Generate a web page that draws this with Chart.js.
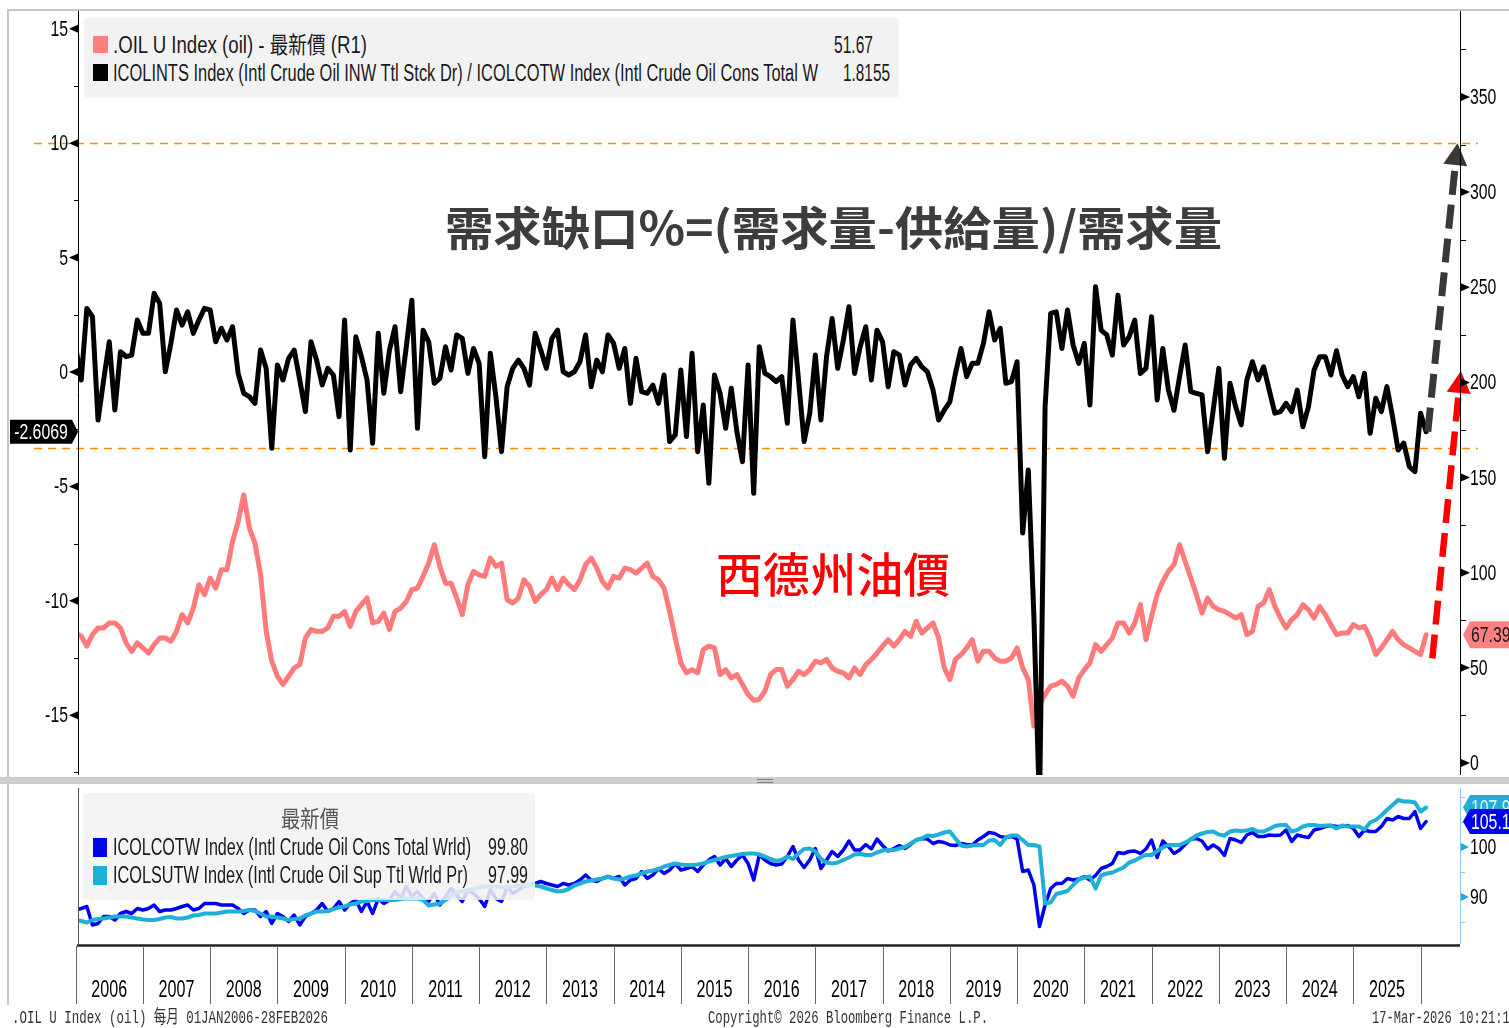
<!DOCTYPE html>
<html>
<head>
<meta charset="utf-8">
<script src="https://cdn.jsdelivr.net/npm/chart.js@4.4.1/dist/chart.umd.min.js"></script>
<style>
  html, body { margin: 0; padding: 0; background: #fff; }
  #page { position: relative; width: 1509px; height: 1028px; overflow: hidden; background: #fff; }
  #page canvas { position: absolute; left: 0; }
  .txt { position: absolute; white-space: nowrap; transform-origin: 0 50%; }
  .box { position: absolute; }
</style>
</head>
<body>
<div id="page">
  <canvas id="topChart" width="1509" height="778" style="top:0"></canvas>
  <canvas id="bottomChart" width="1509" height="245" style="top:783px"></canvas>
</div>
<script>
// monthly, Jan 2006 .. Feb 2026
const years = ['2006','2007','2008','2009','2010','2011','2012','2013','2014','2015',
  '2016','2017','2018','2019','2020','2021','2022','2023','2024','2025'];

// (demand - supply) / demand, %  (left axis)
const gapPct = [
  1.10, -0.35, 2.78, 2.42, -2.10, -0.35, 1.32, -1.66, 0.89, 0.67,
  0.74, 2.27, 1.69, 1.69, 3.44, 3.00, 0.01, 1.25, 2.71, 2.05,
  2.63, 1.69, 2.27, 2.78, 2.71, 1.32, 1.91, 1.40, 1.98, -0.06,
  -0.93, -1.08, -1.37, 0.96, 0.16, -3.33, 0.31, -0.35, 0.60, 0.96,
  -0.35, -1.73, 1.32, 0.52, -0.57, 0.16, -0.13, -1.95, 2.27, -3.41,
  1.54, 0.67, -0.35, -3.11, 1.69, -0.93, 0.96, 1.98, -0.86, 1.10,
  3.14, -2.46, 1.83, 1.32, -0.49, -0.28, 1.10, 0.09, 1.62, 1.47,
  -0.06, 1.03, 0.38, -3.70, 0.82, -1.08, -3.48, -0.64, 0.16, 0.52,
  0.16, -0.57, 1.69, 0.96, 0.16, 1.47, 1.83, 0.01, -0.13, 0.01,
  0.45, 1.62, -0.64, 0.52, 0.01, 1.62, 1.25, 0.16, 1.03, -1.37,
  0.60, -0.86, -0.93, -0.57, -1.37, -0.13, -3.04, -2.75, 0.09, -2.82,
  0.82, -3.48, -1.44, -4.86, -0.13, -0.93, -2.46, -0.71, -2.61, -3.92,
  0.31, -5.30, 1.10, -0.06, -0.20, -0.42, -0.20, -2.24, 2.27, -0.35,
  -3.04, -1.80, 0.74, -2.10, 0.67, 2.34, 0.16, 1.40, 2.85, -0.06,
  1.10, 1.98, -0.35, 1.83, 1.32, -0.64, 0.89, 0.74, -0.57, 0.31,
  0.60, 0.23, 0.01, -0.78, -2.10, -1.67, -1.30, -0.06, 1.03, -0.20,
  0.38, 0.38, 1.25, 2.63, 1.40, 1.91, -0.49, -0.42, 0.45, -7.04,
  -4.28, -10.68, -19.0, -1.51, 2.56, 2.63, 1.03, 2.71, 1.18, 0.38,
  1.25, -1.44, 3.73, 1.83, 1.62, 0.74, 3.36, 1.18, 1.54, 2.27,
  -0.06, 0.16, 2.42, -1.22, 1.03, -0.78, -1.67, -0.20, 1.18, -0.86,
  -0.93, -1.00, -3.48, -1.66, 0.16, -3.77, -0.49, -1.51, -2.31, -0.35,
  0.45, -0.35, 0.23, -0.79, -1.80, -1.73, -1.37, -1.73, -0.79, -2.39,
  -1.51, 0.09, 0.67, 0.67, -0.13, 0.93, -0.13, -0.64, -0.20, -1.08,
  -0.06, -2.68, -1.15, -1.73, -0.64, -1.95, -3.41, -3.11, -4.13, -4.35,
  -1.80, -2.6069
];

// WTI crude, USD (right axis)
const wtiPrice = [
  68.3, 66.6, 61.4, 67.5, 71.0, 71.0, 73.6, 73.6, 71.0, 63.1,
  58.7, 63.1, 60.5, 57.8, 62.2, 65.7, 65.7, 64.0, 69.2, 78.0,
  73.6, 81.4, 93.7, 88.5, 97.2, 91.9, 101.6, 101.6, 116.4, 126.9,
  140.9, 123.4, 115.5, 98.9, 69.2, 53.5, 45.6, 41.3, 45.6, 50.0,
  51.7, 65.7, 70.1, 69.2, 69.2, 71.0, 77.1, 77.1, 79.7, 71.8,
  79.7, 83.2, 86.7, 73.6, 74.5, 78.8, 70.1, 79.7, 81.4, 84.9,
  91.1, 91.9, 98.1, 105.0, 114.7, 103.3, 94.5, 94.5, 86.7, 78.0,
  93.7, 100.7, 98.9, 98.1, 107.7, 103.3, 105.0, 85.8, 84.1, 86.7,
  96.3, 92.8, 84.9, 88.5, 91.1, 97.2, 91.1, 97.2, 93.7, 91.1,
  96.3, 104.2, 107.7, 102.4, 95.4, 91.9, 98.1, 97.2, 102.4, 101.6,
  99.8, 102.4, 105.0, 98.1, 96.3, 91.9, 79.7, 65.7, 52.6, 47.4,
  49.1, 47.4, 59.6, 61.4, 60.5, 46.5, 49.1, 44.7, 46.5, 41.3,
  36.0, 33.0, 33.4, 37.8, 46.5, 49.1, 49.1, 40.4, 43.9, 48.2,
  46.5, 49.1, 53.5, 52.6, 54.4, 50.0, 48.2, 47.4, 44.7, 50.0,
  46.5, 51.7, 54.4, 57.8, 61.4, 64.8, 61.4, 64.8, 69.2, 66.6,
  74.5, 68.3, 71.0, 73.6, 65.7, 50.0, 43.9, 54.4, 57.0, 60.5,
  64.8, 53.5, 58.7, 58.7, 55.2, 53.5, 53.5, 55.2, 60.5, 50.0,
  43.9, 19.4, 30.8, 36.0, 40.4, 41.3, 43.0, 40.4, 35.1, 44.7,
  49.1, 52.6, 62.2, 58.7, 62.2, 65.7, 73.6, 73.6, 68.3, 73.6,
  83.2, 64.8, 77.1, 88.5, 95.4, 100.7, 104.2, 114.7, 105.9, 97.2,
  88.5, 78.8, 86.7, 82.3, 80.6, 79.7, 78.0, 76.2, 78.0, 67.5,
  69.2, 82.3, 84.1, 91.1, 82.3, 76.2, 71.0, 75.4, 78.0, 83.2,
  80.6, 76.2, 82.3, 78.0, 72.7, 67.5, 68.3, 68.3, 72.7, 71.0,
  71.8, 65.7, 57.0, 60.5, 64.8, 69.2, 64.8, 62.2, 60.5, 58.7,
  57.0, 67.39
];

// world crude consumption index (lower panel)
const consumption = [
  87.4, 87.7, 88.1, 84.4, 84.7, 86.1, 86.1, 85.4, 86.7, 87.1,
  86.7, 87.7, 87.4, 87.7, 88.4, 87.1, 87.4, 87.4, 87.7, 88.1,
  88.4, 87.4, 87.7, 88.7, 88.7, 88.7, 88.4, 88.4, 88.4, 87.7,
  86.7, 87.4, 87.4, 86.1, 87.1, 84.7, 86.7, 86.1, 85.1, 86.4,
  84.4, 86.1, 86.7, 87.4, 88.7, 87.1, 87.7, 89.1, 87.4, 88.7,
  89.4, 87.1, 89.1, 86.7, 89.7, 88.7, 89.4, 91.1, 89.7, 92.1,
  90.1, 91.1, 89.7, 89.1, 90.7, 88.4, 90.1, 91.7, 90.4, 89.1,
  91.4, 90.7, 89.7, 88.1, 91.4, 89.7, 89.1, 92.1, 90.7, 91.4,
  92.1, 92.4, 92.7, 93.1, 92.7, 92.4, 92.1, 92.7, 92.4, 92.7,
  93.4, 94.4, 93.4, 93.1, 93.7, 94.1, 93.7, 94.1, 92.4, 93.4,
  93.7, 95.1, 93.7, 94.4, 95.7, 94.7, 95.4, 96.7, 95.4, 95.7,
  96.1, 95.1, 96.4, 97.4, 98.1, 96.4, 97.7, 96.1, 97.4, 98.4,
  96.7, 93.4, 98.4, 97.4, 96.7, 96.4, 96.6, 98.1, 100.1, 97.4,
  95.9, 97.4, 99.7, 95.7, 97.4, 99.1, 98.1, 99.4, 101.2, 99.4,
  99.4, 100.5, 99.6, 101.6, 100.3, 99.2, 99.7, 100.3, 99.7, 100.5,
  101.4, 101.7, 101.6, 100.7, 101.1, 100.9, 100.4, 100.3, 100.7, 100.5,
  100.4, 101.4, 102.1, 102.9, 102.7, 102.1, 101.9, 102.1, 101.6, 95.1,
  95.4, 92.4, 84.1, 88.4, 91.7, 92.7, 92.7, 93.7, 93.4, 93.6,
  94.1, 93.4, 94.3, 95.7, 96.1, 96.7, 98.9, 98.7, 99.1, 99.2,
  98.7, 99.6, 101.4, 97.9, 101.2, 100.1, 98.7, 99.4, 100.5, 101.6,
  101.7, 101.2, 99.6, 100.4, 99.7, 98.3, 101.7, 101.4, 100.9, 102.4,
  102.9, 102.1, 102.1, 102.4, 102.3, 102.4, 103.4, 101.1, 102.4, 102.1,
  101.9, 103.4, 103.7, 104.1, 104.3, 104.1, 104.1, 104.3, 103.7, 102.1,
  103.4, 103.1, 103.1, 104.1, 105.7, 105.4, 106.1, 105.7, 105.7, 107.1,
  103.7, 105.1
];

// world crude supply index (lower panel)
const supply = [
  85.4, 85.2, 84.9, 85.4, 85.6, 85.7, 85.9, 86.1, 86.1, 86.1,
  85.9, 85.7, 85.5, 85.4, 85.4, 85.6, 85.9, 86.0, 85.7, 85.7,
  85.9, 86.3, 86.4, 86.7, 86.7, 86.7, 86.9, 87.1, 87.1, 87.1,
  87.2, 87.4, 87.2, 86.7, 86.1, 86.1, 85.9, 85.7, 85.4, 85.6,
  85.7, 86.3, 86.7, 87.1, 87.1, 87.2, 87.6, 87.9, 88.1, 88.5,
  88.7, 89.1, 89.2, 89.4, 89.4, 89.4, 89.4, 89.4, 89.6, 89.7,
  89.7, 89.7, 89.4, 88.3, 88.5, 88.7, 89.4, 90.1, 90.9, 91.2,
  91.4, 91.6, 91.9, 92.1, 92.1, 92.1, 91.9, 91.9, 92.1, 92.3,
  92.4, 92.4, 92.3, 92.1, 91.7, 91.4, 91.1, 91.2, 91.6, 92.3,
  92.7, 93.1, 93.3, 93.5, 93.7, 94.0, 93.7, 93.5, 93.7, 94.1,
  94.3, 94.7, 95.1, 95.3, 95.6, 96.1, 96.4, 96.7, 96.5, 96.4,
  96.4, 96.5, 96.7, 97.1, 97.4, 97.7, 98.0, 98.2, 98.4, 98.6,
  98.7, 98.7, 98.5, 98.1, 97.6, 97.2, 97.4, 98.1, 97.6, 98.7,
  99.6, 99.7, 99.1, 97.6, 96.9, 96.7, 96.9, 97.4, 97.9, 98.5,
  98.6, 98.4, 98.4, 98.9, 99.3, 99.4, 99.4, 99.7, 100.0, 100.7,
  101.4, 101.7, 102.3, 102.2, 102.5, 102.9, 103.1, 101.7, 100.3, 100.1,
  100.3, 100.4, 100.4, 101.3, 101.4, 100.4, 101.9, 102.3, 102.3, 101.4,
  100.4, 100.4, 100.1, 88.7, 88.9, 90.6, 90.9, 91.2, 92.4, 93.5,
  93.9, 94.1, 91.7, 94.3, 94.7, 94.9, 95.4, 95.9, 96.9, 97.3,
  97.9, 98.4, 98.4, 99.2, 99.9, 100.4, 100.4, 100.4, 100.9, 101.5,
  102.3, 102.7, 103.0, 103.1, 102.5, 102.3, 103.1, 103.3, 103.2, 103.3,
  103.6, 103.1, 103.1, 103.6, 104.2, 104.4, 104.4, 103.1, 103.4, 104.1,
  104.4, 104.4, 104.2, 104.3, 104.3, 103.7, 104.3, 104.1, 104.1, 104.1,
  103.5, 104.9, 105.4, 106.3, 107.4, 108.4, 109.4, 109.1, 109.1, 108.9,
  107.1, 107.9
];

const leftTicks = [15, 10, 5, 0, -5, -10, -15];
const rightTicks = [350, 300, 250, 200, 150, 100, 50, 0];
const lowerTicks = [100, 90];
const bandLevels = [10, -3.32];          // orange dashed guides, left-axis units
const lastGap = -2.6069, lastOil = 67.39, lastCons = 105.1, lastSup = 107.9;

const monthIdx = gapPct.map((_, i) => i);
const toXY = arr => arr.map((v, i) => ({ x: monthIdx[i], y: v }));

const X_MIN = 0.6, X_MAX = 247.04;
const NARROW = '"Liberation Sans", "DejaVu Sans", sans-serif';
const CJK = '"Noto Sans CJK TC", "Noto Sans CJK SC", sans-serif';

function narrow(ctx, text, x, y, align, size, sx, color) {
  ctx.save();
  ctx.font = size + 'px ' + NARROW;
  ctx.fillStyle = color || '#000';
  ctx.textBaseline = 'middle';
  ctx.textAlign = 'left';
  const w = ctx.measureText(text).width * sx;
  let x0 = x;
  if (align === 'right') x0 = x - w;
  if (align === 'center') x0 = x - w / 2;
  ctx.translate(x0, y);
  ctx.scale(sx, 1);
  ctx.fillText(text, 0, 0);
  ctx.restore();
}

function tri(ctx, x, y, len, color) {
  ctx.fillStyle = color;
  ctx.beginPath();
  ctx.moveTo(x, y - 4);
  ctx.lineTo(x, y + 4);
  ctx.lineTo(x + len, y);
  ctx.closePath();
  ctx.fill();
}

function arrow(ctx, x1, y1, x2, y2, color, width) {
  const ang = Math.atan2(y2 - y1, x2 - x1);
  const head = 22;
  const bx = x2 - Math.cos(ang) * head, by = y2 - Math.sin(ang) * head;
  ctx.save();
  ctx.strokeStyle = color;
  ctx.lineWidth = width;
  ctx.setLineDash([24, 10]);
  ctx.beginPath();
  ctx.moveTo(x1, y1);
  ctx.lineTo(bx, by);
  ctx.stroke();
  ctx.setLineDash([]);
  ctx.fillStyle = color;
  const px = Math.cos(ang + Math.PI / 2) * 12, py = Math.sin(ang + Math.PI / 2) * 12;
  ctx.beginPath();
  ctx.moveTo(x2, y2);
  ctx.lineTo(bx + px, by + py);
  ctx.lineTo(bx - px, by - py);
  ctx.closePath();
  ctx.fill();
  ctx.restore();
}

function valueTag(ctx, xTip, y, xEnd, h, fill, text, textColor) {
  ctx.fillStyle = fill;
  ctx.beginPath();
  ctx.moveTo(xTip, y);
  ctx.lineTo(xTip + 7, y - h / 2);
  ctx.lineTo(xEnd, y - h / 2);
  ctx.lineTo(xEnd, y + h / 2);
  ctx.lineTo(xTip + 7, y + h / 2);
  ctx.closePath();
  ctx.fill();
  narrow(ctx, text, xTip + 8, y + 1, 'left', 22, 0.72, textColor);
}

const topDecor = {
  id: 'topDecor',
  beforeDatasetsDraw(chart) {
    const { ctx, chartArea: a, scales: { yL } } = chart;
    ctx.save();
    ctx.strokeStyle = '#ff8c00';
    ctx.lineWidth = 1.5;
    ctx.setLineDash([8, 6]);
    bandLevels.forEach(v => {
      const y = Math.round(yL.getPixelForValue(v)) + 0.5;
      ctx.beginPath();
      ctx.moveTo(34, y);
      ctx.lineTo(a.right + 18, y);
      ctx.stroke();
    });
    ctx.restore();
  },
  afterDatasetsDraw(chart) {
    const { ctx, scales: { x, yL, yR } } = chart;
    arrow(ctx, x.getPixelForValue(241.3), yL.getPixelForValue(-2.6),
      x.getPixelForValue(246.6), yL.getPixelForValue(10), '#3a3835', 7);
    arrow(ctx, x.getPixelForValue(242.1), yR.getPixelForValue(55),
      x.getPixelForValue(247.2), yR.getPixelForValue(206), '#ff0000', 6.5);
  },
  afterDraw(chart) {
    const { ctx, chartArea: a, scales: { yL, yR } } = chart;
    ctx.save();
    ctx.strokeStyle = '#000';
    ctx.lineWidth = 1;
    // left axis
    ctx.beginPath(); ctx.moveTo(a.left - 0.5, a.top); ctx.lineTo(a.left - 0.5, a.bottom); ctx.stroke();
    for (let v = -17.5; v <= 15; v += 2.5) {
      const y = Math.round(yL.getPixelForValue(v)) + 0.5;
      ctx.beginPath(); ctx.moveTo(a.left - 5, y); ctx.lineTo(a.left, y); ctx.stroke();
    }
    leftTicks.forEach(v => {
      const y = yL.getPixelForValue(v);
      tri(ctx, a.left - 1, y, -9, '#000');
      narrow(ctx, String(v), a.left - 11, y + 1, 'right', 22, 0.72, '#000');
    });
    // right axis
    ctx.beginPath(); ctx.moveTo(a.right + 0.5, a.top); ctx.lineTo(a.right + 0.5, a.bottom); ctx.stroke();
    for (let v = 0; v <= 375; v += 25) {
      const y = Math.round(yR.getPixelForValue(v)) + 0.5;
      ctx.beginPath(); ctx.moveTo(a.right, y); ctx.lineTo(a.right + 6, y); ctx.stroke();
    }
    rightTicks.forEach(v => {
      const y = yR.getPixelForValue(v);
      tri(ctx, a.right + 1, y, 9, '#000');
      narrow(ctx, String(v), a.right + 10, y + 1, 'left', 22, 0.72, '#000');
    });
    // last-value tags
    const yg = yL.getPixelForValue(lastGap);
    ctx.fillStyle = '#000';
    ctx.beginPath();
    ctx.moveTo(10, yg - 12); ctx.lineTo(72, yg - 12); ctx.lineTo(78, yg);
    ctx.lineTo(72, yg + 12); ctx.lineTo(10, yg + 12); ctx.closePath(); ctx.fill();
    narrow(ctx, String(lastGap), 41, yg + 1, 'center', 22, 0.72, '#fff');
    valueTag(ctx, a.right + 3, yR.getPixelForValue(lastOil), 1509, 27, '#ff8080', lastOil.toFixed(2), '#1a1a1a');
    ctx.restore();
  }
};

const bottomDecor = {
  id: 'bottomDecor',
  afterDraw(chart) {
    const { ctx, chartArea: a, scales: { x, yB } } = chart;
    ctx.save();
    // left axis line
    ctx.strokeStyle = '#555';
    ctx.lineWidth = 1;
    ctx.beginPath(); ctx.moveTo(a.left - 0.5, a.top); ctx.lineTo(a.left - 0.5, a.bottom); ctx.stroke();
    // right axis
    ctx.strokeStyle = '#8fc9e0';
    ctx.beginPath(); ctx.moveTo(a.right + 0.5, a.top); ctx.lineTo(a.right + 0.5, a.bottom); ctx.stroke();
    [85, 95, 105, 110].forEach(v => {
      const y = Math.round(yB.getPixelForValue(v)) + 0.5;
      ctx.beginPath(); ctx.moveTo(a.right, y); ctx.lineTo(a.right + 5, y); ctx.stroke();
    });
    lowerTicks.forEach(v => {
      const y = yB.getPixelForValue(v);
      tri(ctx, a.right + 1, y, 8, '#2aa6d4');
      narrow(ctx, String(v), a.right + 10, y + 1, 'left', 22, 0.72, '#000');
    });
    // bottom axis line and year dividers
    ctx.strokeStyle = '#222';
    ctx.lineWidth = 2.5;
    ctx.beginPath(); ctx.moveTo(a.left - 2, a.bottom + 1.5); ctx.lineTo(a.right, a.bottom + 1.5); ctx.stroke();
    ctx.strokeStyle = '#666';
    ctx.lineWidth = 1;
    for (let k = 0; k <= years.length; k++) {
      const px = Math.round(x.getPixelForValue(12 * k)) + 0.5;
      ctx.beginPath(); ctx.moveTo(px, a.bottom + 2); ctx.lineTo(px, a.bottom + 60); ctx.stroke();
    }
    years.forEach((yr, k) => {
      narrow(ctx, yr, x.getPixelForValue(12 * k + 6), a.bottom + 47, 'center', 23, 0.7, '#000');
    });
    // last-value tags (clipped to the panel)
    ctx.save();
    ctx.beginPath(); ctx.rect(a.right, a.top, 1509 - a.right, a.bottom - a.top); ctx.clip();
    valueTag(ctx, a.right + 3, yB.getPixelForValue(lastSup), 1509, 25, '#22aed8', lastSup.toFixed(1), '#e8f6ff');
    valueTag(ctx, a.right + 3, yB.getPixelForValue(lastCons), 1509, 25, '#0000ee', lastCons.toFixed(1), '#ffffff');
    ctx.restore();
    ctx.restore();
  }
};

const baseOptions = (padTop, padBottom, yAxes) => ({
  responsive: false,
  animation: false,
  devicePixelRatio: 1,
  layout: { padding: { top: padTop, bottom: padBottom, left: 0, right: 0 } },
  elements: {
    point: { radius: 0 },
    line: { tension: 0, borderJoinStyle: 'round', borderCapStyle: 'round' }
  },
  plugins: { legend: { display: false }, tooltip: { enabled: false } },
  scales: Object.assign({ x: { type: 'linear', min: X_MIN, max: X_MAX, display: false } }, yAxes)
});

const hiddenAxis = (pos, min, max, width) => ({
  position: pos, min: min, max: max,
  grid: { display: false }, border: { display: false }, ticks: { display: false },
  afterFit: s => { s.width = width; }
});

new Chart(document.getElementById('topChart'), {
  type: 'line',
  data: {
    datasets: [
      { label: 'gap', data: toXY(gapPct), yAxisID: 'yL', borderColor: '#000000', borderWidth: 5, order: 0 },
      { label: 'oil', data: toXY(wtiPrice), yAxisID: 'yR', borderColor: '#ff7b7b', borderWidth: 5, order: 1 }
    ]
  },
  options: baseOptions(10, 3, {
    yL: hiddenAxis('left', -17.61, 15.82, 79),
    yR: hiddenAxis('right', -6.3, 395.7, 49)
  }),
  plugins: [topDecor]
});

new Chart(document.getElementById('bottomChart'), {
  type: 'line',
  data: {
    datasets: [
      { label: 'supply', data: toXY(supply), yAxisID: 'yB', borderColor: '#1fb0d8', borderWidth: 4, order: 0 },
      { label: 'cons', data: toXY(consumption), yAxisID: 'yB', borderColor: '#0000f0', borderWidth: 3.5, order: 1 }
    ]
  },
  options: baseOptions(5, 84, {
    yA: hiddenAxis('left', 80.6, 111.8, 79),
    yB: hiddenAxis('right', 80.6, 111.8, 49)
  }),
  plugins: [bottomDecor]
});

// ---- HTML overlay: frame, legends, annotations, footer ----
const page = document.getElementById('page');
function addBox(l, t, w, h, bg, extra) {
  const d = document.createElement('div');
  d.className = 'box';
  d.style.cssText = `left:${l}px;top:${t}px;width:${w}px;height:${h}px;background:${bg};` + (extra || '');
  page.appendChild(d);
  return d;
}
function addText(t, x, y, w, size, color, family, weight) {
  const d = document.createElement('div');
  d.className = 'txt';
  d.textContent = t;
  d.style.cssText += `left:${x}px;top:${y - size * 0.6}px;font-size:${size}px;line-height:${size * 1.2}px;` +
    `color:${color};font-family:${family};font-weight:${weight || 400};`;
  page.appendChild(d);
  const nat = d.getBoundingClientRect().width;
  if (nat > 0) d.style.transform = `scaleX(${w / nat})`;
  return d;
}

// window frame and panel splitter
addBox(7, 9, 1502, 2, '#c4c4c4');
addBox(7, 9, 2, 996, '#c4c4c4');
addBox(0, 777, 1509, 7, '#cdcdcd');
addBox(757, 779, 16, 1, '#7a7a7a');
addBox(757, 782, 16, 1, '#7a7a7a');

// top legend
addBox(84, 18, 815, 80, '#f2f2f2', 'border-radius:4px;');
addBox(93, 36, 15, 17, '#ff7f7f');
addBox(93, 64, 15, 17, '#000');
const LEG = NARROW + ', ' + CJK;
addText('.OIL U Index (oil) - 最新價 (R1)', 113, 46, 254, 23, '#1a1a1a', LEG);
addText('51.67', 834, 46, 39, 23, '#1a1a1a', LEG);
addText('ICOLINTS Index (Intl Crude Oil INW Ttl Stck Dr) / ICOLCOTW Index (Intl Crude Oil Cons Total W', 113, 74, 705, 23, '#1a1a1a', LEG);
addText('1.8155', 843, 74, 47, 23, '#1a1a1a', LEG);

// annotations
addText('需求缺口%=(需求量-供給量)/需求量', 445, 226, 777, 46, '#3d3d3d', CJK, 700);
addText('西德州油價', 716, 572, 234, 47, '#ff0000', CJK, 500);

// bottom legend (semi-transparent over the lines)
addBox(83, 793, 452, 107, 'rgba(242,242,242,0.86)', 'border-radius:4px;');
addText('最新價', 281, 818, 58, 23, '#555', CJK);
addBox(93, 838, 14, 19, '#0000f0');
addBox(93, 866, 14, 19, '#1fb0d8');
addText('ICOLCOTW Index (Intl Crude Oil Cons Total Wrld)', 113, 848, 358, 23, '#1a1a1a', LEG);
addText('99.80', 488, 848, 40, 23, '#1a1a1a', LEG);
addText('ICOLSUTW Index (Intl Crude Oil Sup Ttl Wrld Pr)', 113, 876, 355, 23, '#1a1a1a', LEG);
addText('97.99', 488, 876, 40, 23, '#1a1a1a', LEG);

// footer
const MONO = '"Liberation Mono", "DejaVu Sans Mono", "Noto Sans CJK TC", monospace';
addText('.OIL U Index (oil) 每月 01JAN2006-28FEB2026', 12, 1019, 316, 18, '#333', MONO);
addText('Copyright© 2026 Bloomberg Finance L.P.', 708, 1019, 280, 18, '#333', MONO);
addText('17-Mar-2026 10:21:13', 1372, 1019, 145, 18, '#333', MONO);
</script>
</body>
</html>
